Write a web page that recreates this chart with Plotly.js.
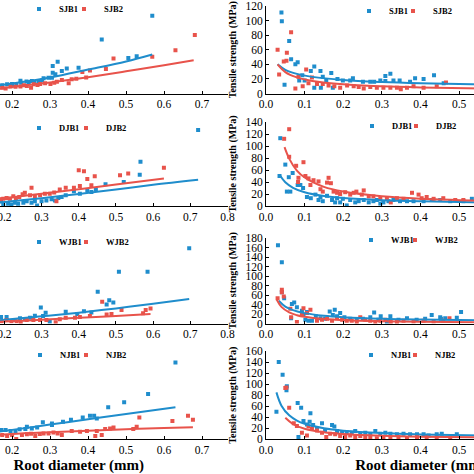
<!DOCTYPE html>
<html><head><meta charset="utf-8">
<script src="https://cdn.plot.ly/plotly-3.0.1.min.js"></script>
<style>
html,body{margin:0;padding:0;width:474px;height:474px;overflow:hidden;background:#fff}
#chart{position:absolute;left:-100px;top:-20px;width:700px;height:494px}
</style>
</head><body><div id="chart"></div>
<script>
// ---------- Left column: tensile force vs root diameter ----------
const sjb1ForceD = [0.174,0.187,0.200,0.211,0.222,0.224,0.238,0.244,0.252,0.259,0.270,0.279,0.283,0.296,0.305,0.307,0.307,0.314,0.320,0.331,0.344,0.375,0.436,0.506,0.528,0.569];
const sjb1ForceF = [2.8,3.2,3.3,3.1,4.4,3.7,4.1,3.7,4.3,4.0,4.3,4.5,5.2,5.4,5.4,9.4,7.1,6.6,10.9,7.7,8.6,8.8,18.5,12.2,12.8,26.7];
const sjb2ForceD = [0.174,0.183,0.196,0.209,0.222,0.231,0.239,0.250,0.257,0.267,0.274,0.287,0.301,0.311,0.318,0.331,0.349,0.357,0.369,0.385,0.395,0.405,0.447,0.467,0.569,0.630,0.681];
const sjb2ForceF = [2.0,1.7,2.4,2.3,2.4,2.8,2.6,2.0,3.2,2.9,3.3,3.5,3.3,3.7,4.0,4.6,3.5,4.9,5.1,7.4,5.5,7.9,8.4,12.0,12.6,14.8,20.1];
const sjb1ForceFitD = [0.10,0.15,0.2,0.3,0.4,0.5,0.569];
const sjb1ForceFitF = [1.5,2.5,3.4,5.5,8.2,11.0,13.4];
const sjb2ForceFitD = [0.10,0.15,0.2,0.3,0.4,0.5,0.6,0.678];
const sjb2ForceFitF = [0.9,1.5,2.2,3.8,5.6,7.6,9.7,11.4];

const djb1ForceD = [0.191,0.197,0.210,0.219,0.228,0.237,0.251,0.260,0.273,0.282,0.288,0.300,0.313,0.327,0.336,0.345,0.354,0.365,0.387,0.403,0.423,0.434,0.446,0.472,0.521,0.564,0.566,0.721];
const djb1ForceF = [1.7,0.5,0.8,0.5,1.2,0.8,1.2,1.7,1.2,1.7,0.2,1.7,2.0,2.4,2.0,2.9,3.2,3.8,5.3,4.4,5.6,5.0,6.0,7.8,8.6,11.2,15.8,27.1];
const djb2ForceD = [0.188,0.197,0.206,0.215,0.224,0.231,0.240,0.249,0.255,0.269,0.273,0.282,0.296,0.309,0.322,0.334,0.340,0.349,0.365,0.387,0.400,0.403,0.414,0.423,0.434,0.443,0.511,0.533,0.629];
const djb2ForceF = [2.4,2.6,2.9,2.6,3.5,2.9,3.2,4.2,4.7,3.8,6.5,3.5,3.8,4.4,4.4,4.8,1.7,5.9,6.5,6.5,12.8,7.1,12.4,9.6,7.4,10.6,11.0,11.6,13.7];
const djb1ForceFitD = [0.10,0.15,0.2,0.3,0.4,0.5,0.6,0.721];
const djb1ForceFitF = [0.2,0.7,1.4,2.8,4.3,5.9,7.6,9.4];
const djb2ForceFitD = [0.10,0.15,0.2,0.3,0.4,0.5,0.629];
const djb2ForceFitF = [1.3,2.0,2.8,4.4,6.0,7.7,9.8];

const wjb1ForceD = [0.191,0.206,0.228,0.242,0.255,0.269,0.282,0.298,0.304,0.311,0.322,0.365,0.396,0.414,0.434,0.451,0.475,0.482,0.493,0.508,0.585,0.697];
const wjb1ForceF = [2.3,2.3,1.2,1.8,1.5,2.0,2.7,5.6,2.6,3.8,0.6,4.1,3.3,4.3,3.9,11.1,6.7,8.2,7.4,18.2,18.2,26.4];
const wjb2ForceD = [0.192,0.206,0.219,0.233,0.244,0.260,0.278,0.296,0.313,0.338,0.349,0.365,0.390,0.403,0.430,0.463,0.475,0.488,0.515,0.573,0.580,0.593];
const wjb2ForceF = [0.8,1.2,0.8,0.8,0.4,1.2,1.2,1.2,1.2,0.4,1.5,2.0,2.0,2.3,2.6,7.6,3.2,3.3,4.7,3.6,4.7,5.3];
const wjb1ForceFitD = [0.10,0.15,0.2,0.3,0.4,0.5,0.6,0.697];
const wjb1ForceFitF = [0.4,0.8,1.3,2.5,3.8,5.3,6.9,8.6];
const wjb2ForceFitD = [0.10,0.15,0.2,0.3,0.4,0.5,0.593];
const wjb2ForceFitF = [0.2,0.4,0.7,1.3,2.0,2.6,3.3];

const njb1ForceD = [0.172,0.183,0.196,0.209,0.220,0.235,0.239,0.252,0.266,0.281,0.305,0.305,0.334,0.355,0.386,0.405,0.416,0.423,0.453,0.495,0.558,0.630];
const njb1ForceF = [3.2,3.2,2.8,2.8,3.4,3.5,4.3,3.7,4.0,5.8,4.9,5.4,6.0,6.6,7.4,8.0,8.0,7.1,10.9,12.6,15.4,26.1];
const njb2ForceD = [0.174,0.187,0.200,0.211,0.226,0.239,0.250,0.261,0.273,0.283,0.296,0.309,0.320,0.331,0.357,0.379,0.397,0.419,0.423,0.436,0.445,0.458,0.467,0.519,0.528,0.535,0.622,0.663,0.676];
const njb2ForceF = [1.5,1.1,1.5,0.1,1.5,1.7,1.9,1.1,1.8,2.0,2.0,2.3,2.0,1.5,2.8,2.6,2.8,1.1,2.8,1.5,3.5,3.7,4.0,3.5,4.3,7.4,6.2,8.0,6.6];
const njb1ForceFitD = [0.10,0.15,0.2,0.3,0.4,0.5,0.63];
const njb1ForceFitF = [1.4,2.3,3.2,5.0,6.8,8.6,10.9];
const njb2ForceFitD = [0.10,0.15,0.2,0.3,0.4,0.5,0.6,0.676];
const njb2ForceFitF = [0.9,1.3,1.8,2.4,2.9,3.4,3.8,4.1];

// ---------- Right column: tensile strength (MPa) vs root diameter ----------
const sjb1StrD = [0.040,0.041,0.048,0.060,0.065,0.076,0.082,0.086,0.094,0.100,0.116,0.125,0.125,0.141,0.142,0.147,0.156,0.169,0.173,0.185,0.199,0.218,0.225,0.251,0.270,0.280,0.296,0.309,0.309,0.322,0.330,0.346,0.373,0.386,0.408,0.435,0.460];
const sjb1StrS = [111,99,12,72,47,40,43,18,25,18,31,37,8,31,8,23,18,28,8,20,18,18,21,16,16,16,18,24,17,27,18,18,16,21,20,25,14];
const sjb2StrD = [0.030,0.034,0.046,0.053,0.054,0.065,0.076,0.084,0.095,0.104,0.110,0.119,0.132,0.147,0.162,0.177,0.192,0.210,0.227,0.240,0.253,0.270,0.287,0.304,0.322,0.339,0.349,0.365,0.382,0.408,0.442,0.466];
const sjb2StrS = [60,26,44,45,56,84,7,23,10,33,14,22,13,13,11,10,8,11,10,9,7,9,8,8,8,8,6,8,10,8,10,15];
const sjb1StrFitD = [0.03,0.05,0.08,0.12,0.2,0.3,0.4,0.6];
const sjb1StrFitS = [40,32.5,26.9,22.8,18.5,15.7,14.0,11.9];
const sjb2StrFitD = [0.03,0.05,0.08,0.12,0.2,0.3,0.4,0.6];
const sjb2StrFitS = [40,29.4,22.1,17.3,12.7,9.95,8.4,6.5];

const djb1StrD = [0.035,0.037,0.050,0.054,0.059,0.063,0.069,0.082,0.089,0.096,0.106,0.116,0.128,0.136,0.141,0.147,0.158,0.171,0.179,0.184,0.192,0.199,0.209,0.218,0.231,0.240,0.253,0.266,0.278,0.287,0.296,0.304,0.317,0.330,0.347,0.365,0.382,0.408,0.429,0.451,0.477,0.511,0.533];
const djb1StrS = [50,113,69,24,48,24,55,35,35,30,15,13,19,10,15,8,17,10,6,13,6,12,1,10,6,8,10,6,8,10,4,6,8,10,8,8,8,8,10,10,8,8,12];
const djb2StrD = [0.047,0.060,0.060,0.078,0.083,0.084,0.097,0.102,0.110,0.115,0.123,0.136,0.141,0.147,0.158,0.162,0.168,0.175,0.184,0.192,0.205,0.218,0.227,0.234,0.248,0.253,0.266,0.278,0.296,0.313,0.323,0.339,0.356,0.378,0.395,0.403,0.416,0.434,0.459,0.490,0.511];
const djb2StrS = [112,128,82,67,40,47,73,50,46,35,43,41,28,24,39,47,38,24,22,20,23,19,22,24,19,26,16,16,13,12,6,13,12,22,19,13,15,12,13,10,10];
const djb1StrFitD = [0.035,0.05,0.07,0.1,0.15,0.2,0.3,0.4,0.6];
const djb1StrFitS = [52,39.6,30.4,23,16.7,13.3,9.7,7.8,5.6];
const djb2StrFitD = [0.048,0.06,0.08,0.1,0.15,0.2,0.3,0.4,0.6];
const djb2StrFitS = [98,79,59,47.6,31.8,24,16.1,12.1,8.1];

const wjb1StrD = [0.031,0.041,0.041,0.047,0.065,0.067,0.073,0.080,0.093,0.097,0.102,0.106,0.110,0.119,0.129,0.141,0.153,0.165,0.173,0.178,0.184,0.192,0.203,0.218,0.235,0.251,0.270,0.280,0.291,0.297,0.313,0.322,0.343,0.365,0.390,0.412,0.429,0.451,0.453,0.464,0.494,0.505];
const wjb1StrS = [165,129,66,53,11,41,44,34,27,18,8,24,6,6,15,11,10,25,18,29,15,22,13,10,8,10,13,23,8,15,3,15,8,11,8,10,18,13,10,11,12,24];
const wjb2StrD = [0.030,0.041,0.041,0.046,0.063,0.065,0.080,0.093,0.097,0.106,0.115,0.132,0.145,0.158,0.171,0.184,0.197,0.209,0.222,0.235,0.244,0.257,0.270,0.283,0.296,0.309,0.323,0.339,0.356,0.382,0.408,0.434,0.459,0.475];
const wjb2StrS = [53,71,66,57,31,13,3,18,32,22,29,6,8,10,6,11,8,6,6,3,13,8,6,3,6,8,3,3,6,4,6,4,6,11];
const wjb1StrFitD = [0.033,0.05,0.07,0.1,0.15,0.2,0.3,0.4,0.6];
const wjb1StrFitS = [48,35.7,28.2,21.8,16.4,13.4,10.0,8.2,6.1];
const wjb2StrFitD = [0.028,0.04,0.06,0.08,0.1,0.15,0.2,0.3,0.4,0.6];
const wjb2StrFitS = [50,35,23.3,17.5,14,9.3,7,4.7,3.5,2.3];

const njb1StrD = [0.027,0.033,0.043,0.053,0.054,0.082,0.084,0.091,0.097,0.106,0.113,0.115,0.122,0.132,0.145,0.153,0.171,0.177,0.184,0.197,0.209,0.222,0.231,0.244,0.257,0.270,0.283,0.296,0.309,0.322,0.339,0.356,0.373,0.391,0.408,0.421,0.442,0.455,0.494];
const njb1StrS = [50,140,117,89,96,66,4,57,33,27,32,47,26,19,29,16,26,23,15,12,13,12,15,10,12,9,15,10,12,10,9,10,9,9,9,7,9,10,9];
const njb2StrD = [0.050,0.053,0.060,0.072,0.080,0.093,0.106,0.110,0.119,0.132,0.145,0.156,0.166,0.179,0.192,0.205,0.218,0.231,0.244,0.257,0.270,0.287,0.304,0.322,0.343,0.365,0.391,0.416,0.442,0.477];
const njb2StrS = [93,94,57,29,24,12,7,23,19,16,12,4,10,9,6,4,7,4,6,4,4,2,4,2,4,2,4,4,2,4];
const njb1StrFitD = [0.027,0.04,0.06,0.08,0.1,0.15,0.2,0.3,0.4,0.6];
const njb1StrFitS = [85,61,43.4,34,28.2,20.1,15.7,11.2,8.8,6.3];
const njb2StrFitD = [0.05,0.07,0.1,0.15,0.2,0.3,0.4,0.6];
const njb2StrFitS = [39,27.6,19.2,12.7,9.5,6.3,4.7,3.1];

const seriesNames = [['SJB1','SJB2'],['DJB1','DJB2'],['WJB1','WJB2'],['NJB1','NJB2']];
const strengthRanges = [[0,120],[0,140],[0,180],[0,160]];
const leftTickVals = [0.2,0.3,0.4,0.5,0.6,0.7,0.8];
const rightTickVals = [0.0,0.1,0.2,0.3,0.4,0.5];
const xTitle = 'Root diameter (mm)';
const yTitleRight = 'Tensile strength (MPa)';

// ---------- styling / layout ----------
const BLUE = '#1f8dcc', RED = '#e8534b';
const FONT = 'Liberation Serif, Times New Roman, serif';
const W = 700, H = 494, OFF = 100, TOP = 20;
const fx = sx => (sx + OFF) / W;
const fy = sy => 1 - (sy + TOP) / H;

const rowsY = [[6,93.5],[122,206],[238,323.5],[351,439.3]];
const leftXRanges = [[-0.016,0.767],[0,0.8],[0,0.8],[-0.016,0.767]];
const leftDom = [fx(-70), fx(227.5)];
const rightDom = [fx(266), fx(575)];

const groups = [
  {f:[sjb1ForceD,sjb1ForceF,sjb2ForceD,sjb2ForceF], ff:[sjb1ForceFitD,sjb1ForceFitF,sjb2ForceFitD,sjb2ForceFitF],
   s:[sjb1StrD,sjb1StrS,sjb2StrD,sjb2StrS], sf:[sjb1StrFitD,sjb1StrFitS,sjb2StrFitD,sjb2StrFitS]},
  {f:[djb1ForceD,djb1ForceF,djb2ForceD,djb2ForceF], ff:[djb1ForceFitD,djb1ForceFitF,djb2ForceFitD,djb2ForceFitF],
   s:[djb1StrD,djb1StrS,djb2StrD,djb2StrS], sf:[djb1StrFitD,djb1StrFitS,djb2StrFitD,djb2StrFitS]},
  {f:[wjb1ForceD,wjb1ForceF,wjb2ForceD,wjb2ForceF], ff:[wjb1ForceFitD,wjb1ForceFitF,wjb2ForceFitD,wjb2ForceFitF],
   s:[wjb1StrD,wjb1StrS,wjb2StrD,wjb2StrS], sf:[wjb1StrFitD,wjb1StrFitS,wjb2StrFitD,wjb2StrFitS]},
  {f:[njb1ForceD,njb1ForceF,njb2ForceD,njb2ForceF], ff:[njb1ForceFitD,njb1ForceFitF,njb2ForceFitD,njb2ForceFitF],
   s:[njb1StrD,njb1StrS,njb2StrD,njb2StrS], sf:[njb1StrFitD,njb1StrFitS,njb2StrFitD,njb2StrFitS]}
];

const axBase = {showline:true, linecolor:'#000', linewidth:1, ticks:'inside', ticklen:3, tickcolor:'#000',
  showgrid:false, zeroline:false, automargin:false, fixedrange:true,
  tickfont:{family:FONT, size:11.5, color:'#000'}};

const data = [];
const layout = {width:W, height:H, margin:{l:0,r:0,t:0,b:0}, paper_bgcolor:'#fff', plot_bgcolor:'rgba(0,0,0,0)',
  font:{family:FONT, color:'#000'}, showlegend:true};

// legend entry start x (screen px) for [series1, series2] and centre y, per panel
const legendPos = [
  [[19,64,9],[349,393,11]],
  [[19,66,128],[352,396,126]],
  [[19,66,242],[351,395,240]],
  [[20,66,355],[351,395,355]]
];

groups.forEach((g, r) => {
  [0,1].forEach(c => {
    const idx = 2*r + c + 1;
    const xa = 'x' + (idx===1?'':idx), ya = 'y' + (idx===1?'':idx);
    const pts = c===0 ? g.f : g.s;
    const fit = c===0 ? g.ff : g.sf;
    const lp = legendPos[r][c];
    [0,1].forEach(k => {
      const col = k===0 ? BLUE : RED;
      const ln = 2*(idx-1) + k + 1;
      const lg = 'legend' + (ln===1?'':ln);
      data.push({type:'scatter', mode:'markers', x:pts[2*k], y:pts[2*k+1], xaxis:xa, yaxis:ya,
        name:seriesNames[r][k], legend:lg, marker:{symbol:'square', size:4, color:col}, cliponaxis:true});
      layout[lg] = {orientation:'h', x:fx(lp[k]), y:fy(lp[2]), xanchor:'left', yanchor:'middle',
        bgcolor:'rgba(0,0,0,0)', borderwidth:0, itemwidth:30, tracegroupgap:0,
        font:{family:FONT, size:8.5, weight:'bold', color:'#000'}};
    });
    [0,1].forEach(k => {
      const col = k===0 ? BLUE : RED;
      data.push({type:'scatter', mode:'lines', x:fit[2*k], y:fit[2*k+1], xaxis:xa, yaxis:ya,
        showlegend:false, line:{color:col, width:2, shape:'spline'}, hoverinfo:'skip'});
    });
    const xk = 'xaxis' + (idx===1?'':idx), yk = 'yaxis' + (idx===1?'':idx);
    const yd = [fy(rowsY[r][1]), fy(rowsY[r][0])];
    layout[xk] = Object.assign({}, axBase, {
      domain: c===0 ? leftDom : rightDom, anchor: ya,
      range: c===0 ? leftXRanges[r] : [0,0.8],
      tickmode:'array', tickvals: c===0 ? leftTickVals : rightTickVals, tickformat:'.1f'
    });
    if (r===3) layout[xk].title = {text:xTitle, font:{family:FONT, size:15, weight:'bold', color:'#000'}, standoff:6};
    layout[yk] = Object.assign({}, axBase, {
      domain: yd, anchor: xa,
      range: c===0 ? [0,30] : strengthRanges[r], dtick: c===0 ? 5 : 20, tick0:0,
      showticklabels: c===1
    });
    if (c===1) layout[yk].title = {text:yTitleRight, font:{family:FONT, size:10, weight:'bold', color:'#000'}, standoff:6};
  });
});

Plotly.newPlot('chart', data, layout, {staticPlot:true, displayModeBar:false});
</script></body></html>
